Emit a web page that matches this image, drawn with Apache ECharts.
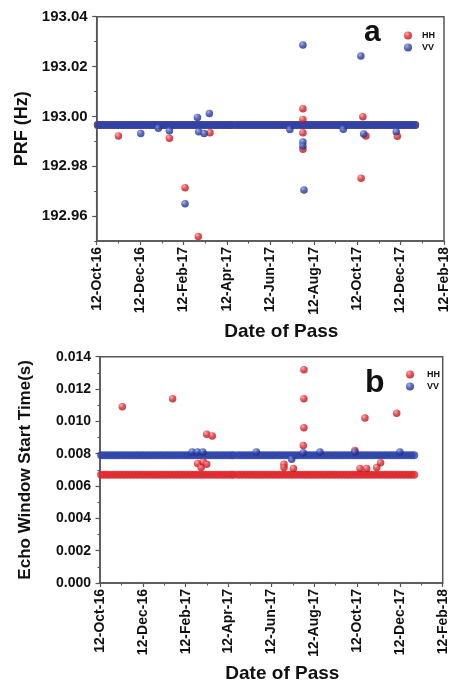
<!DOCTYPE html>
<html><head><meta charset="utf-8">
<script src="https://cdn.jsdelivr.net/npm/echarts@6/dist/echarts.min.js"></script>
<style>html,body{margin:0;padding:0;background:#fff}#c{width:451px;height:684px}</style>
</head><body><div id="c"></div>
<script>
// x values are months elapsed since 12-Oct-2016
const xTickLabels = ['12-Oct-16','12-Dec-16','12-Feb-17','12-Apr-17','12-Jun-17','12-Aug-17','12-Oct-17','12-Dec-17','12-Feb-18'];

// dates of the regular passes (months since 12-Oct-16)
const passMonths = [0.05,0.19,0.33,0.48,0.62,0.77,0.91,1.06,1.2,1.35,1.49,1.64,1.78,1.93,2.07,2.22,2.36,2.51,2.65,2.8,2.94,3.09,3.23,3.38,3.52,3.67,3.81,3.96,4.1,4.25,4.39,4.54,4.68,4.83,4.97,5.12,5.26,5.41,5.55,5.7,5.84,5.99,6.13,6.24,6.42,6.57,6.71,6.86,7.0,7.15,7.29,7.44,7.58,7.73,7.87,8.02,8.16,8.31,8.45,8.6,8.74,8.89,9.03,9.18,9.32,9.47,9.61,9.76,9.9,10.05,10.19,10.34,10.48,10.63,10.77,10.92,11.06,11.21,11.35,11.5,11.64,11.79,11.93,12.08,12.22,12.37,12.51,12.66,12.8,12.95,13.09,13.24,13.38,13.53,13.67,13.82,13.96,14.11,14.25,14.4,14.54,14.67];

// nominal values of the regular passes
const prfNominalHH = 192.9965;
const prfNominalVV = 192.9965;
const ewsNominalHH = 0.0067;
const ewsNominalVV = 0.0079;

// deviating passes [month, value]
const prfOutHH = [[1.0,192.9921],[3.35,192.9912],[4.07,192.9714],[4.68,192.9518],[5.22,192.9934],[9.5,193.0031],[9.5,192.9988],[9.5,192.9934],[9.5,192.9868],[12.18,192.9752],[12.26,192.9999],[12.4,192.9921],[13.85,192.992]];
const prfOutVV = [[2.03,192.9931],[2.84,192.9952],[3.35,192.9942],[4.07,192.9649],[4.64,192.9996],[4.7,192.9938],[4.95,192.9931],[5.19,193.0012],[8.9,192.9947],[9.5,193.0286],[9.5,192.9897],[9.5,192.9881],[9.55,192.9705],[11.36,192.9948],[12.17,193.0242],[12.3,192.9929],[13.8,192.9938]];
const ewsOutHH = [[1.04,0.0109],[3.39,0.0114],[4.56,0.0074],[4.72,0.00714],[4.82,0.00748],[4.98,0.00734],[4.98,0.0092],[5.24,0.0091],[8.59,0.00734],[8.59,0.00714],[9.03,0.00708],[9.52,0.0132],[9.52,0.0114],[9.52,0.0096],[9.49,0.0085],[11.9,0.0082],[12.14,0.00708],[12.37,0.0102],[12.45,0.00708],[12.92,0.00714],[13.1,0.00744],[13.85,0.0105]];
const ewsOutVV = [[4.3,0.0081],[4.55,0.0081],[4.8,0.0081],[7.3,0.0081],[8.95,0.00765],[9.49,0.00806],[10.27,0.0081],[11.9,0.0081],[14.0,0.0081]];

const prfTicks = [192.96,192.98,193.00,193.02,193.04];
const prfMinorTicks = [192.95,192.97,192.99,193.01,193.03];

const FONT = "'Liberation Sans', Arial, sans-serif";
const AX = '#555';
const TXT = '#111';
function sphere(hi, mid, lo){return {type:'radial',x:0.35,y:0.3,r:0.75,colorStops:[{offset:0,color:hi},{offset:0.5,color:mid},{offset:1,color:lo}]};}
const RED = sphere('#ff9a9a','#e0262c','#a3141b');
const BLUE = sphere('#8d9de6','#2f45ad','#1b2672');
const RED_BAND = '#e0272c';
const BLUE_BAND = '#2c43a8';

function xAxis(grid){
  return {type:'value',gridIndex:grid,min:0,max:16,interval:2,
    axisLine:{show:true,onZero:false,lineStyle:{color:AX,width:1.5}},
    axisTick:{show:true,length:4,lineStyle:{color:AX,width:1.2}},
    minorTick:{show:true,splitNumber:2,length:2.5,lineStyle:{color:AX,width:1}},
    splitLine:{show:false},minorSplitLine:{show:false},
    axisLabel:{rotate:90,margin:6,fontSize:14,fontWeight:'bold',color:TXT,fontFamily:FONT,
      formatter:v=>xTickLabels[Math.round(v/2)]},
    name:'Date of Pass',nameLocation:'middle',nameGap:81,
    nameTextStyle:{fontSize:19,fontWeight:'bold',color:TXT,fontFamily:FONT,padding:[0,0,0,22]}};
}
function band(name, x, y, months, val, color, size){
  return {name:name,type:'scatter',xAxisIndex:x,yAxisIndex:y,symbolSize:size,
    itemStyle:{color:color},silent:true,data:months.map(m=>[m,val])};
}
function pts(name, x, y, data, color){
  return {name:name,type:'scatter',xAxisIndex:x,yAxisIndex:y,symbolSize:7.5,
    itemStyle:{color:color},silent:true,data:data};
}
const legendData = [{name:'HH',itemStyle:{color:RED}},{name:'VV',itemStyle:{color:BLUE}}];

const chart = echarts.init(document.getElementById('c'), null, {renderer:'canvas'});
chart.setOption({
  animation:false,
  backgroundColor:'#fff',
  textStyle:{fontFamily:FONT},
  title:[
    {text:'a',left:359,top:13,padding:5,textStyle:{fontSize:30,fontWeight:'bold',color:TXT,fontFamily:FONT}},
    {text:'b',left:360,top:362,padding:5,textStyle:{fontSize:32,fontWeight:'bold',color:TXT,fontFamily:FONT}}
  ],
  legend:[
    {data:legendData,orient:'vertical',left:399,top:26,itemWidth:8,itemHeight:8,itemGap:3,icon:'circle',selectedMode:false,
      textStyle:{fontSize:9,fontWeight:'bold',color:TXT,fontFamily:FONT,padding:[0,0,0,5]}},
    {data:legendData,orient:'vertical',left:401,top:365,itemWidth:8,itemHeight:8,itemGap:3,icon:'circle',selectedMode:false,
      textStyle:{fontSize:9,fontWeight:'bold',color:TXT,fontFamily:FONT,padding:[0,0,0,8]}}
  ],
  grid:[
    {left:96.7,right:7,top:16.7,height:224.3,show:true,borderColor:AX,borderWidth:1.5,backgroundColor:'transparent'},
    {left:100,right:8.3,top:356.7,height:228.3,show:true,borderColor:AX,borderWidth:1.5,backgroundColor:'transparent'}
  ],
  xAxis:[xAxis(0), xAxis(1)],
  yAxis:[
    {type:'value',gridIndex:0,position:'left',min:192.95,max:193.04,
      axisLine:{show:true,lineStyle:{color:AX,width:1.5}},
      axisTick:{show:true,length:4.5,customValues:prfTicks,lineStyle:{color:AX,width:1.2}},
      splitLine:{show:false},
      axisLabel:{customValues:prfTicks,margin:9,fontSize:15,fontWeight:'bold',color:TXT,fontFamily:FONT,formatter:v=>(+v).toFixed(2)},
      name:'PRF (Hz)',nameLocation:'middle',nameGap:66,
      nameTextStyle:{fontSize:18,fontWeight:'bold',color:TXT,fontFamily:FONT}},
    {type:'value',gridIndex:0,position:'left',offset:0,min:192.95,max:193.04,
      axisLine:{show:false},
      axisTick:{show:true,length:2.5,customValues:prfMinorTicks,lineStyle:{color:AX,width:1}},
      splitLine:{show:false},axisLabel:{show:false}},
    {type:'value',gridIndex:1,position:'left',min:0,max:0.014,interval:0.002,
      axisLine:{show:true,lineStyle:{color:AX,width:1.5}},
      axisTick:{show:true,length:4.5,lineStyle:{color:AX,width:1.2}},
      minorTick:{show:true,splitNumber:2,length:2.5,lineStyle:{color:AX,width:1}},
      splitLine:{show:false},minorSplitLine:{show:false},
      axisLabel:{margin:9,fontSize:14,fontWeight:'bold',color:TXT,fontFamily:FONT,formatter:v=>(+v).toFixed(3)},
      name:'Echo Window Start Time(s)',nameLocation:'middle',nameGap:66,
      nameTextStyle:{fontSize:17,fontWeight:'bold',color:TXT,fontFamily:FONT}}
  ],
  series:[
    band('HH',0,0,passMonths,prfNominalHH,RED_BAND,8),
    band('VV',0,0,passMonths,prfNominalVV,BLUE_BAND,8),
    pts('HH',0,0,prfOutHH,RED),
    pts('VV',0,0,prfOutVV,BLUE),
    band('HH',1,2,passMonths,ewsNominalHH,RED_BAND,8),
    band('VV',1,2,passMonths,ewsNominalVV,BLUE_BAND,8),
    pts('HH',1,2,ewsOutHH,RED),
    pts('VV',1,2,ewsOutVV,BLUE)
  ]
});
</script>
</body></html>
